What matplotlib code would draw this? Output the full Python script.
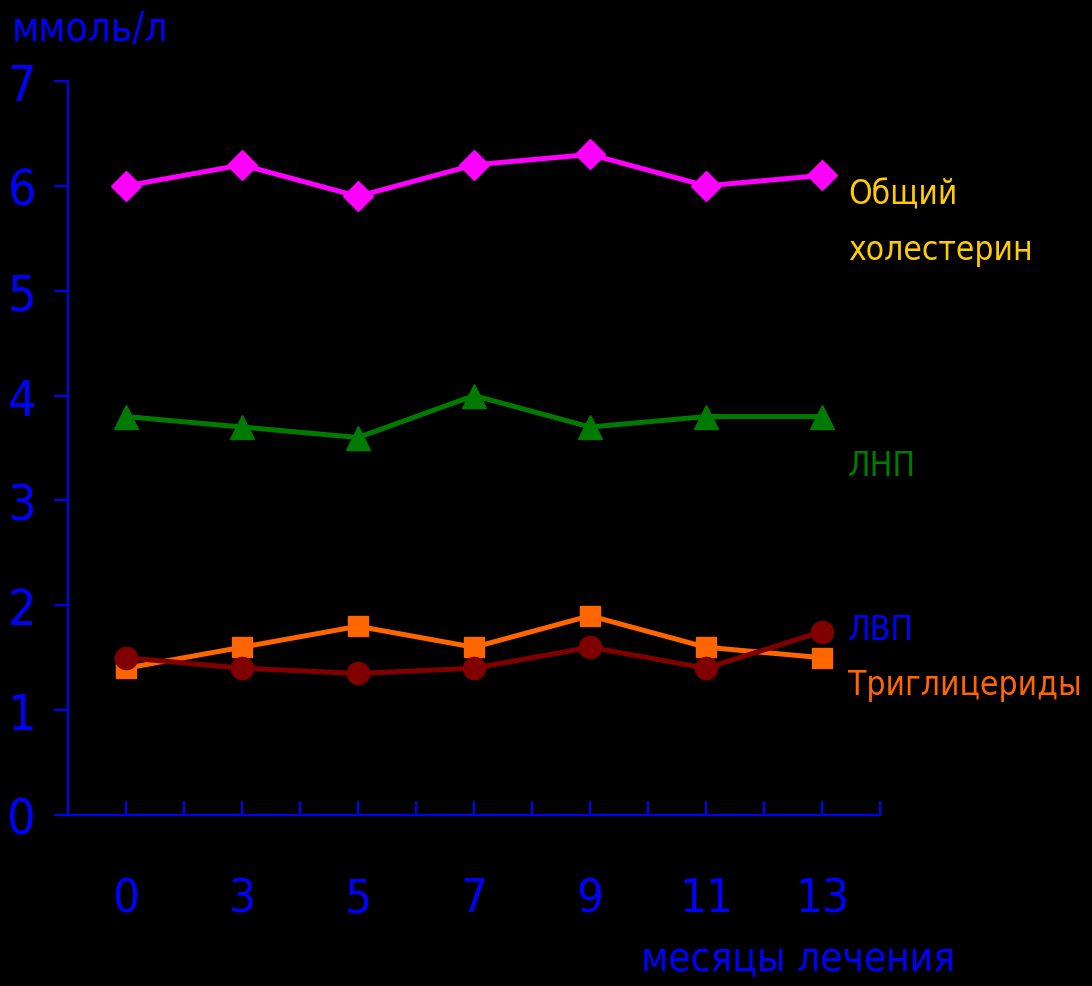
import matplotlib
matplotlib.use("Agg")
import matplotlib.pyplot as plt
from matplotlib.ticker import MultipleLocator

plt.rcParams['font.family'] = ['DejaVu Sans']
plt.rcParams['font.stretch'] = 'condensed'

months = ['0', '3', '5', '7', '9', '11', '13']
total_chol = [6.0, 6.2, 5.9, 6.2, 6.3, 6.0, 6.1]
ldl = [3.8, 3.7, 3.6, 4.0, 3.7, 3.8, 3.8]
hdl = [1.5, 1.4, 1.35, 1.4, 1.6, 1.4, 1.75]
trig = [1.4, 1.6, 1.8, 1.6, 1.9, 1.6, 1.5]

blue = '#0000FF'

fig = plt.figure(figsize=(10.92, 9.87), dpi=100, facecolor='black')
ax = fig.add_axes([68 / 1092, 1 - 816 / 987, (880 - 68) / 1092, (816 - 82) / 987])
ax.set_facecolor('black')

x = range(len(months))
ax.plot(x, trig, color='#FF6600', lw=3.6, marker='s', ms=15, zorder=3)
ax.plot(x, hdl, color='#800000', lw=3.6, marker='o', ms=16, zorder=4)
ax.plot(x, ldl, color='#007A00', lw=3.6, marker='^', ms=17, zorder=3)
ax.plot(x, total_chol, color='#FF00FF', lw=3.6, marker='D', ms=15, zorder=3)

ax.set_xlim(-0.5, 6.5)
ax.set_ylim(0, 7)
for s in ['top', 'right']:
    ax.spines[s].set_visible(False)
for s in ['left', 'bottom']:
    ax.spines[s].set_color(blue)
    ax.spines[s].set_linewidth(1.5)

ax.set_xticks(list(x))
ax.set_xticklabels(months)
ax.xaxis.set_minor_locator(MultipleLocator(0.5))
ax.tick_params(axis='x', which='both', direction='in', length=10, width=1.5,
               color=blue, labelcolor=blue, labelsize=34, pad=44)
ax.yaxis.set_major_locator(MultipleLocator(1))
ax.tick_params(axis='y', direction='out', length=10, width=1.5,
               color=blue, labelcolor=blue, labelsize=36, pad=13)

fig.text(12 / 1092, 1 - 30 / 987, 'ммоль/л', color=blue, fontsize=29,
         ha='left', va='center')
fig.text(955 / 1092, 1 - 960 / 987, 'месяцы лечения', color=blue, fontsize=29,
         ha='right', va='center')

lab = dict(fontsize=24, ha='left', va='center')
fig.text(848 / 1092, 1 - 195 / 987, 'Общий', color='#FFCC00', **lab)
fig.text(848 / 1092, 1 - 251 / 987, 'холестерин', color='#FFCC00', **lab)
fig.text(848 / 1092, 1 - 467 / 987, 'ЛНП', color='#007A00', **lab)
fig.text(848 / 1092, 1 - 630 / 987, 'ЛВП', color=blue, **lab)
fig.text(848 / 1092, 1 - 685 / 987, 'Триглицериды', color='#FF6600', **lab)

fig.savefig('out.png', dpi=100, facecolor='black')
